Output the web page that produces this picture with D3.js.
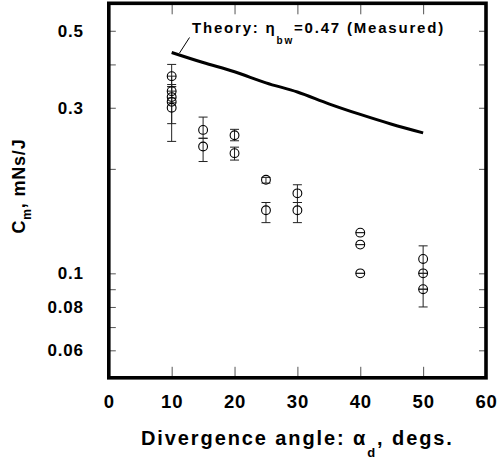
<!DOCTYPE html>
<html lang="en">
<head>
  <meta charset="UTF-8">
  <title>Cm vs divergence angle</title>
  <style>
  * {
    margin: 0;padding: 0;
  }
  body {
    background: #fff;
  }
  svg text {
    font-family: "Liberation Sans", Arial, sans-serif;
    font-weight: bold;
    fill: #000;
  }
  </style>
  <script src="https://cdn.jsdelivr.net/npm/d3@7/dist/d3.min.js"></script>
</head>
<body>
<svg width="498" height="466" id="svg1"></svg>
<script>
// axis ticks
const xTicks = [0, 10, 20, 30, 40, 50, 60];
const yTicks = [0.06, 0.07, 0.08, 0.09, 0.1, 0.2, 0.3, 0.4, 0.5];
const yTickLabels = [0.06, 0.08, 0.1, 0.3, 0.5];

// theory curve, eta_bw = 0.47
const theoryAngle = [10, 15, 20, 25, 30, 35, 40, 45, 50];
const theoryCm = [0.433, 0.405, 0.381, 0.354, 0.333, 0.308, 0.287, 0.269, 0.254];

// measured points with error bars
const measAngle = [10, 10, 10, 10, 10, 15, 15, 20, 20, 25, 25, 30, 30, 40, 40, 40, 50, 50, 50];
const measCm    = [0.37, 0.335, 0.322, 0.312, 0.30, 0.259, 0.232, 0.25, 0.222, 0.186, 0.152, 0.17, 0.152, 0.131, 0.121, 0.10, 0.11, 0.10, 0.09];
const measLo    = [0.345, 0.32, 0.31, 0.27, 0.24, 0.245, 0.21, 0.241, 0.212, 0.182, 0.14, 0.16, 0.14, 0.131, 0.121, 0.10, 0.08, 0.10, 0.09];
const measHi    = [0.40, 0.35, 0.335, 0.345, 0.37, 0.282, 0.245, 0.26, 0.231, 0.189, 0.16, 0.18, 0.16, 0.131, 0.121, 0.10, 0.12, 0.10, 0.09];

const svg = d3.select("#svg1");

const x = d3.scaleLinear().domain([0, 60]).range([108.8, 486]);
const y = d3.scaleLog().domain([0.05, 0.6]).range([377.8, 3.3]);

const fmt = d => yTickLabels.includes(d) ? String(d) : "";

// axes (ticks pointing inward)
svg.append("g").attr("transform", `translate(${x(0)},0)`)
  .call(d3.axisLeft(y).tickValues(yTicks).tickSize(-7).tickPadding(25).tickFormat(fmt))
  .call(g => g.selectAll("text").attr("font-size", 17).attr("font-family", null).style("letter-spacing", "0.8px"));

svg.append("g").attr("transform", `translate(${x(60)},0)`)
  .call(d3.axisRight(y).tickValues(yTicks).tickSize(-7).tickFormat(""));

svg.append("g").attr("transform", `translate(0,${y(0.05)})`)
  .call(d3.axisBottom(x).tickValues(xTicks).tickSize(-11).tickPadding(17))
  .call(g => g.selectAll("text").attr("font-size", 18.5).attr("font-family", null).style("letter-spacing", "0.8px"));

svg.append("g").attr("transform", `translate(0,${y(0.6)})`)
  .call(d3.axisTop(x).tickValues(xTicks).tickSize(-11).tickFormat(""));

svg.selectAll(".domain").remove();
svg.selectAll(".tick line").attr("stroke", "#555").attr("stroke-width", 1);

// frame
svg.append("rect")
  .attr("x", x(0)).attr("y", y(0.6))
  .attr("width", x(60) - x(0)).attr("height", y(0.05) - y(0.6))
  .attr("fill", "none").attr("stroke", "#000").attr("stroke-width", 3.6);

// theory line
const line = d3.line().x((d, i) => x(theoryAngle[i])).y(d => y(d)).curve(d3.curveMonotoneX);
svg.append("path").datum(theoryCm)
  .attr("d", line)
  .attr("fill", "none").attr("stroke", "#000").attr("stroke-width", 3);

// error bars
const pts = measAngle.map((a, i) => ({a: a, v: measCm[i], lo: measLo[i], hi: measHi[i]}));
const eb = svg.append("g").attr("stroke", "#222").attr("stroke-width", 1);
pts.forEach(p => {
  const cx = x(p.a);
  if (p.hi > p.lo) {
    eb.append("line").attr("x1", cx).attr("x2", cx).attr("y1", y(p.hi)).attr("y2", y(p.lo));
  }
  [p.lo, p.hi].forEach(v => {
    eb.append("line").attr("x1", cx - 4.5).attr("x2", cx + 4.5).attr("y1", y(v)).attr("y2", y(v));
  });
});

svg.append("g").selectAll("circle").data(pts).enter()
  .append("circle")
  .attr("cx", d => x(d.a))
  .attr("cy", d => y(d.v))
  .attr("r", 4.4)
  .attr("fill", "none")
  .attr("stroke", "#000")
  .attr("stroke-width", 1.1);

// theory label + leader
svg.append("line")
  .attr("x1", 189.5).attr("y1", 37.5).attr("x2", 179.5).attr("y2", 53)
  .attr("stroke", "#000").attr("stroke-width", 1);

const lab = svg.append("text").attr("x", 192).attr("y", 33)
  .attr("font-size", 15).style("letter-spacing", "1.8px");
lab.append("tspan").text("Theory: η");
lab.append("tspan").attr("dy", 11).attr("font-size", 10).text("bw");
lab.append("tspan").attr("dy", -11).text("=0.47 (Measured)");

// x title
const xt = svg.append("text").attr("x", x(30)).attr("y", 445)
  .attr("text-anchor", "middle").attr("font-size", 20).style("letter-spacing", "1.9px");
xt.append("tspan").text("Divergence angle:  α");
xt.append("tspan").attr("dy", 12).attr("font-size", 13).text("d");
xt.append("tspan").attr("dy", -12).text(", degs.");

// y title
const yt = svg.append("text").attr("transform", "translate(25,186) rotate(-90)")
  .attr("text-anchor", "middle").attr("font-size", 18).style("letter-spacing", "0.8px");
yt.append("tspan").text("C");
yt.append("tspan").attr("dy", 6).attr("font-size", 12).text("m");
yt.append("tspan").attr("dy", -6).text(", mNs/J");
</script>
</body>
</html>
